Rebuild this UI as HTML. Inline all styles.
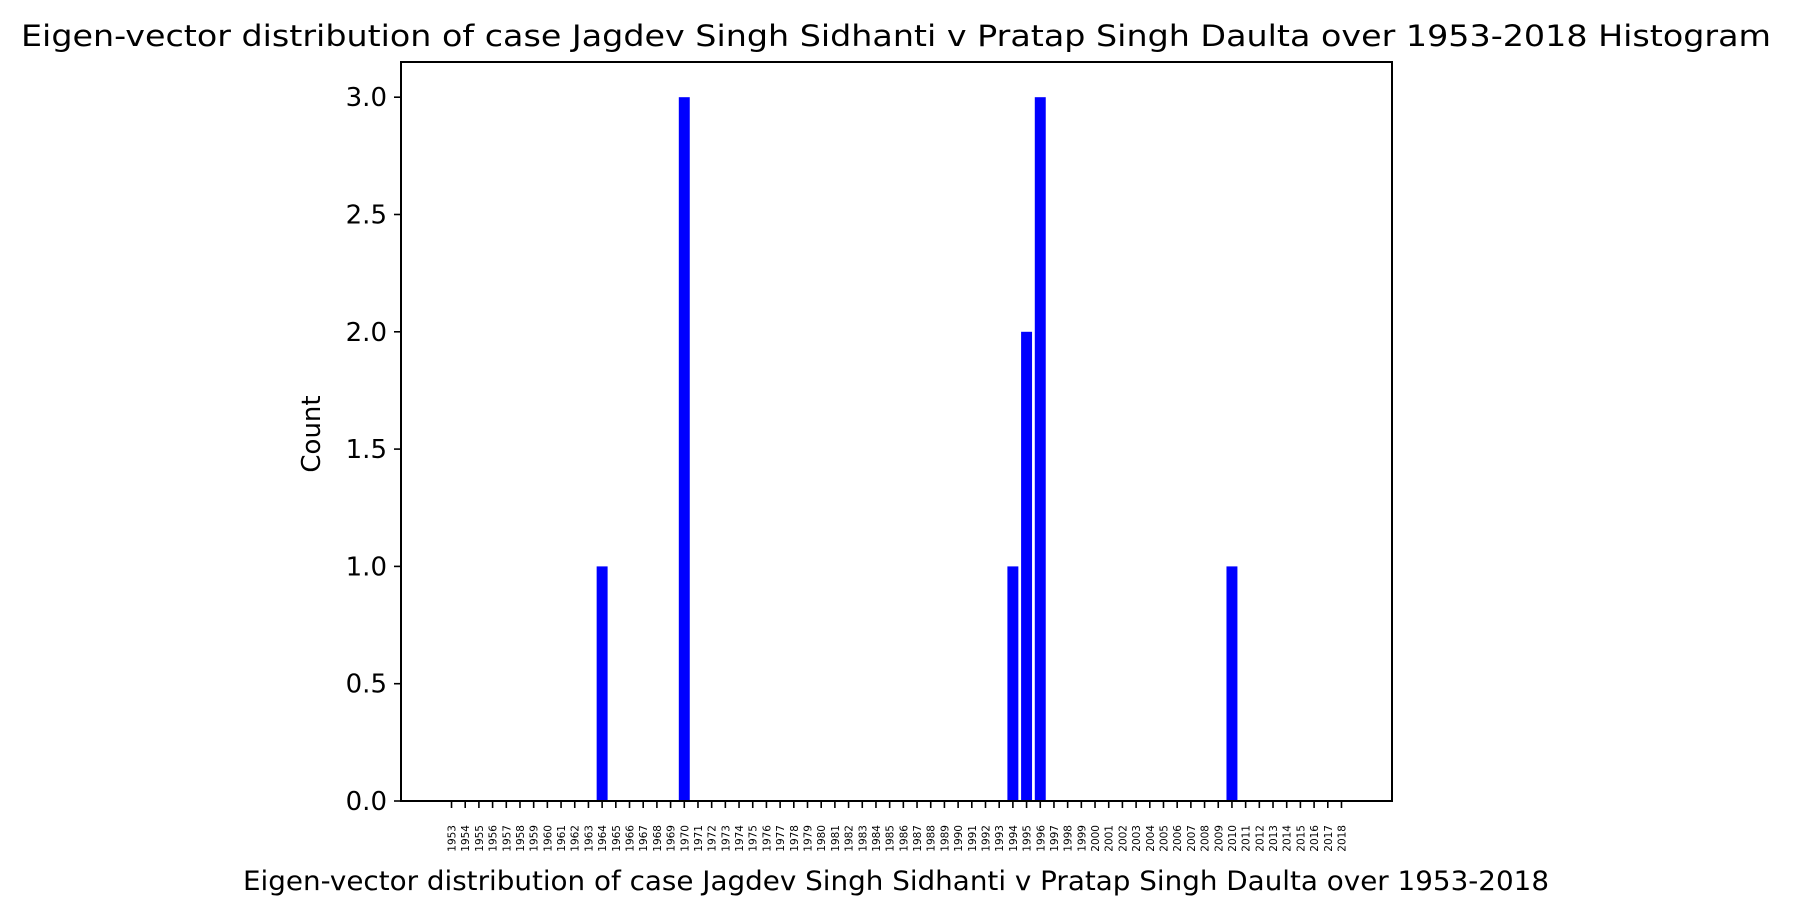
<!DOCTYPE html>
<html><head><meta charset="utf-8"><style>
html,body{margin:0;padding:0;background:#fff;}
svg{display:block;font-family:"DejaVu Sans","Liberation Sans",sans-serif;}
</style></head><body>
<svg id="chart" width="1793" height="915" xmlns="http://www.w3.org/2000/svg">
<text x="896" y="46" font-size="29" text-anchor="middle" textLength="1750" lengthAdjust="spacingAndGlyphs">Eigen-vector distribution of case Jagdev Singh Sidhanti v Pratap Singh Daulta over 1953-2018 Histogram</text>
<text x="896" y="890" font-size="27" text-anchor="middle" textLength="1306" lengthAdjust="spacingAndGlyphs">Eigen-vector distribution of case Jagdev Singh Sidhanti v Pratap Singh Daulta over 1953-2018</text>
<text transform="translate(320,434) rotate(-90)" font-size="26" text-anchor="middle">Count</text>
<g id="bars"></g>
<g id="xticks"></g>
<g id="yticks"></g>
<rect x="401" y="62" width="991" height="739" fill="none" stroke="#000" stroke-width="2"/>
</svg>
<script>
const years = [];
for (let y = 1953; y <= 2018; y++) years.push(String(y));
const barYears = ["1964","1970","1994","1995","1996","2010"];
const barCounts = [1,3,1,2,3,1];
const yTickValues = [0,0.5,1,1.5,2,2.5,3];
const yTickLabels = ["0.0","0.5","1.0","1.5","2.0","2.5","3.0"];

const NS = "http://www.w3.org/2000/svg";
const L = 401, R = 1392, T = 62, B = 801;
const xmin = -3.69, xmax = years.length - 1 + 3.69;
const ymax = 3.15;
const xs = i => L + (i - xmin) / (xmax - xmin) * (R - L);
const ys = v => B - v / ymax * (B - T);
const step = xs(1) - xs(0);

function mk(tag, attrs){ const e = document.createElementNS(NS, tag); for (const k in attrs) e.setAttribute(k, attrs[k]); return e; }

const gb = document.getElementById('bars');
barYears.forEach((yr, j) => {
  const i = years.indexOf(yr);
  const w = step * 0.8;
  const r = mk('rect', {x: xs(i) - w/2, y: ys(barCounts[j]), width: w, height: B - ys(barCounts[j]), fill: '#0000ff'});
  
  
  gb.appendChild(r);
});

const gx = document.getElementById('xticks');
years.forEach((yr, i) => {
  const x = xs(i);
  const t = mk('line', {x1: x, x2: x, y1: B, y2: B + 7, stroke: '#000', 'stroke-width': 1.6});
  
  
  gx.appendChild(t);
  const tx = mk('text', {transform: `translate(${x + 4},${B + 24}) rotate(-90)`, 'font-size': 10.5, 'text-anchor': 'end'});
  tx.textContent = yr;
  
  
  gx.appendChild(tx);
});

const gy = document.getElementById('yticks');
yTickValues.forEach((v, k) => {
  const y = ys(v);
  const t = mk('line', {x1: L - 7, x2: L, y1: y, y2: y, stroke: '#000', 'stroke-width': 1.6});
  
  
  gy.appendChild(t);
  const tx = mk('text', {x: L - 14, y: y + 9, 'font-size': 26, 'text-anchor': 'end'});
  tx.textContent = yTickLabels[k];
  
  
  gy.appendChild(tx);
});
</script>
</body></html>
